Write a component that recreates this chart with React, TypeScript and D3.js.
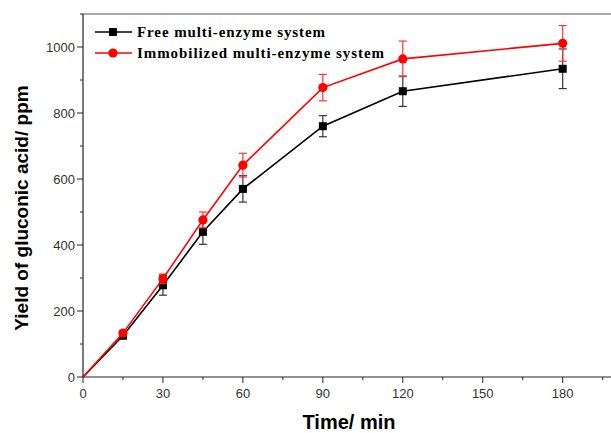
import React, { useEffect } from "react";
import * as d3 from "d3";

const times = [0, 15, 30, 45, 60, 90, 120, 180];
const freeYield = [0, 125, 278, 440, 570, 760, 866, 934];
const freeErr = [0, 6, 30, 38, 40, 32, 46, 60];
const immobYield = [0, 133, 298, 476, 642, 877, 964, 1011];
const immobErr = [0, 8, 14, 24, 36, 40, 54, 54];
const seriesNames = ["Free multi-enzyme system", "Immobilized multi-enzyme system"];

const W = 611;
const H = 433;

export default function App() {
  useEffect(() => {
    document.body.style.margin = "0";
  }, []);

  const x = d3.scaleLinear().domain([0, 200]).range([83, 616]);
  const y = d3.scaleLinear().domain([0, 1100]).range([377, 14]);

  const series = [
    { name: seriesNames[0], vals: freeYield, err: freeErr, color: "#000", errColor: "#333", marker: "square" },
    { name: seriesNames[1], vals: immobYield, err: immobErr, color: "#f00", errColor: "#f33", marker: "circle" },
  ];

  const line = d3
    .line<number>()
    .x((_, i) => x(times[i]))
    .y((d) => y(d));

  const xMajor = d3.range(0, 211, 30);
  const xMinor = d3.range(15, 211, 30);
  const yMajor = d3.range(0, 1001, 200);
  const yMinor = d3.range(100, 1101, 200);

  const marker = (kind: string, cx: number, cy: number, color: string, key: string) =>
    kind === "square" ? (
      <rect key={key} x={cx - 4} y={cy - 4} width={8} height={8} fill={color} />
    ) : (
      <circle key={key} cx={cx} cy={cy} r={4.6} fill={color} />
    );

  return (
    <svg width={W} height={H} style={{ display: "block", background: "#fff" }}>
      {/* frame */}
      <line x1={83} x2={W} y1={y(1100)} y2={y(1100)} stroke="#555" strokeWidth={1.2} />
      <line x1={83} x2={83} y1={y(1100)} y2={y(0)} stroke="#222" strokeWidth={1.2} />
      <line x1={83} x2={W} y1={y(0)} y2={y(0)} stroke="#222" strokeWidth={1.2} />

      {/* y ticks */}
      {yMajor.map((v) => (
        <g key={"ym" + v}>
          <line x1={77} x2={83} y1={y(v)} y2={y(v)} stroke="#222" />
          <text x={75} y={y(v) + 4.5} textAnchor="end" fontFamily="Arial, Liberation Sans" fontSize={13} fill="#333">
            {v}
          </text>
        </g>
      ))}
      {yMinor.map((v) => (
        <line key={"yn" + v} x1={80} x2={83} y1={y(v)} y2={y(v)} stroke="#222" />
      ))}

      {/* x ticks */}
      {xMajor.map((v) => (
        <g key={"xm" + v}>
          <line x1={x(v)} x2={x(v)} y1={y(0)} y2={y(0) + 6} stroke="#222" />
          {v <= 180 && (
            <text x={x(v)} y={398} textAnchor="middle" fontFamily="Arial, Liberation Sans" fontSize={13} fill="#333">
              {v}
            </text>
          )}
        </g>
      ))}
      {xMinor.map((v) => (
        <line key={"xn" + v} x1={x(v)} x2={x(v)} y1={y(0)} y2={y(0) + 3} stroke="#222" />
      ))}

      {/* axis titles */}
      <text x={349} y={429} textAnchor="middle" fontFamily="Arial, Liberation Sans" fontWeight="bold" fontSize={20} fill="#000">
        Time/ min
      </text>
      <text
        transform="translate(28,208) rotate(-90)"
        textAnchor="middle"
        fontFamily="Arial, Liberation Sans"
        fontWeight="bold"
        fontSize={19}
        fill="#000"
      >
        Yield of gluconic acid/ ppm
      </text>

      {/* series */}
      {series.map((s) => (
        <g key={s.name}>
          {s.vals.map((v, i) =>
            s.err[i] > 0 ? (
              <g key={"e" + i} stroke={s.errColor} strokeWidth={1.2}>
                <line x1={x(times[i])} x2={x(times[i])} y1={y(v - s.err[i])} y2={y(v + s.err[i])} />
                <line x1={x(times[i]) - 4} x2={x(times[i]) + 4} y1={y(v - s.err[i])} y2={y(v - s.err[i])} />
                <line x1={x(times[i]) - 4} x2={x(times[i]) + 4} y1={y(v + s.err[i])} y2={y(v + s.err[i])} />
              </g>
            ) : null
          )}
          <path d={line(s.vals) || ""} fill="none" stroke={s.color} strokeWidth={1.6} />
          {s.vals.map((v, i) => (i === 0 ? null : marker(s.marker, x(times[i]), y(v), s.color, "m" + i)))}
        </g>
      ))}

      {/* legend */}
      {series.map((s, i) => {
        const ly = 32 + i * 21;
        return (
          <g key={"lg" + i}>
            <line x1={95} x2={132} y1={ly} y2={ly} stroke={s.color} strokeWidth={1.6} />
            {marker(s.marker, 113, ly, s.color, "lm" + i)}
            <text
              x={137}
              y={ly + 5}
              fontFamily="Times New Roman, Liberation Serif"
              fontWeight="bold"
              fontSize={15}
              fill="#000"
              textLength={i === 0 ? 188 : 247}
              lengthAdjust="spacing"
            >
              {s.name}
            </text>
          </g>
        );
      })}
    </svg>
  );
}
